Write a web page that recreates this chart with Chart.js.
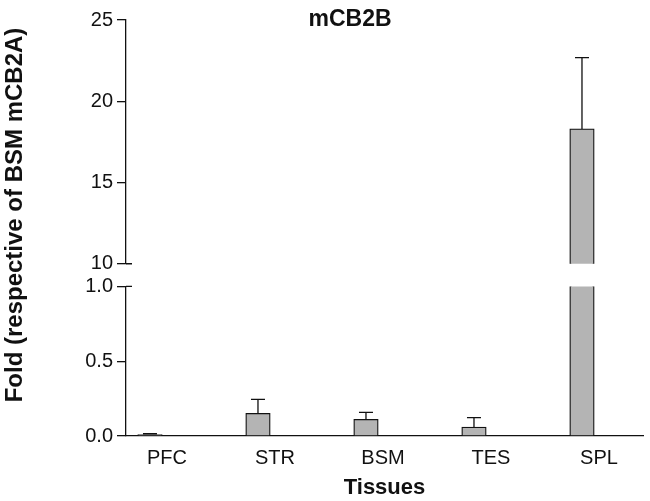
<!DOCTYPE html>
<html>
<head>
<meta charset="utf-8">
<script src="https://cdn.jsdelivr.net/npm/chart.js@4.4.1/dist/chart.umd.min.js"></script>
<style>
  html, body { margin: 0; padding: 0; background: #fff; }
  canvas { display: block; }
</style>
</head>
<body>
<canvas id="chart" width="650" height="501"></canvas>
<script>
const tissues = ["PFC", "STR", "BSM", "TES", "SPL"];
const fold = [0.01, 0.152, 0.112, 0.06, 18.3];
const sem = [0.005, 0.093, 0.046, 0.063, 4.39];
const topTicks = [10, 15, 20, 25];
const lowTicks = [0, 0.5, 1.0];
const titleText = "mCB2B";
const yTitleText = "Fold (respective of BSM mCB2A)";
const xTitleText = "Tissues";

const FONT = "'Liberation Sans', Arial, sans-serif";
const INK = "#111";
const AXIS_W = 126;

// one dataset per axis segment; the upper one only keeps values that reach it
const lowData = fold.map((v, i) => ({x: i, y: v}));
const topData = fold.map((v, i) => ({x: i, y: v >= topTicks[0] ? v : null}));

const extras = {
  id: "extras",
  afterDatasetsDraw(chart) {
    const ctx = chart.ctx;
    const xs = chart.scales.x;
    ctx.save();
    ctx.strokeStyle = INK;
    ctx.lineWidth = 1.3;
    // error bars (upper only)
    chart.data.datasets.forEach(ds => {
      const ys = chart.scales[ds.yAxisID];
      ds.data.forEach((p, i) => {
        if (p.y == null || p.y > ys.max) return;
        const px = xs.getPixelForValue(p.x);
        const y0 = ys.getPixelForValue(p.y);
        const y1 = ys.getPixelForValue(p.y + sem[i]);
        ctx.beginPath();
        ctx.moveTo(px, y0);
        ctx.lineTo(px, y1);
        ctx.moveTo(px - 7, y1);
        ctx.lineTo(px + 7, y1);
        ctx.stroke();
      });
    });
    // break marks on the y axis
    const yt = chart.scales.yTop, yb = chart.scales.yLow;
    ctx.beginPath();
    ctx.moveTo(xs.left, yt.bottom); ctx.lineTo(xs.left + 6, yt.bottom);
    ctx.moveTo(xs.left, yb.top); ctx.lineTo(xs.left + 6, yb.top);
    ctx.stroke();
    // titles
    ctx.fillStyle = INK;
    ctx.font = "bold 23px " + FONT;
    ctx.textAlign = "center";
    ctx.textBaseline = "alphabetic";
    ctx.fillText(titleText, 350, 26);
    ctx.translate(15, 215);
    ctx.rotate(-Math.PI / 2);
    ctx.font = "bold 24px " + FONT;
    ctx.textBaseline = "middle";
    ctx.fillText(yTitleText, 0, 0);
    ctx.restore();
  }
};

const yCommon = {
  position: "left",
  stack: "fold",
  afterFit: s => { s.width = AXIS_W; },
  grid: {drawOnChartArea: false, color: INK, lineWidth: 1.3, tickLength: 9},
  border: {color: INK, width: 1.3},
  ticks: {color: INK, padding: 4, font: {family: FONT, size: 20}}
};

new Chart(document.getElementById("chart"), {
  type: "bar",
  data: {
    datasets: [{
      data: lowData,
      yAxisID: "yLow",
      grouped: false,
      backgroundColor: "#b4b4b4",
      borderColor: INK,
      borderWidth: 1.3,
      barThickness: 24.5
    }, {
      data: topData,
      yAxisID: "yTop",
      grouped: false,
      backgroundColor: "#b4b4b4",
      borderColor: INK,
      borderWidth: 1.3,
      barThickness: 24.5
    }]
  },
  options: {
    responsive: false,
    animation: false,
    maintainAspectRatio: false,
    layout: {padding: {top: 20, right: 7, bottom: 0, left: 0}},
    plugins: {legend: {display: false}, tooltip: {enabled: false}},
    scales: {
      x: {
        type: "linear",
        offset: false,
        min: -0.222,
        max: 4.565,
        afterFit: s => { s.height = 65; },
        afterBuildTicks: s => { s.ticks = tissues.map((t, i) => ({value: i})); },
        ticks: {
          color: INK,
          padding: 10,
          labelOffset: 17,
          maxRotation: 0,
          autoSkip: false,
          font: {family: FONT, size: 20},
          callback: v => tissues[v]
        },
        grid: {display: false, drawTicks: false},
        border: {color: INK, width: 1.3},
        title: {display: true, text: xTitleText, color: INK, padding: {top: 2, bottom: 0},
                font: {family: FONT, size: 22, weight: "bold"}}
      },
      yLow: Object.assign({}, yCommon, {
        min: 0, max: 1, stackWeight: 149.7,
        afterBuildTicks: s => { s.ticks = lowTicks.map(v => ({value: v})); },
        ticks: Object.assign({}, yCommon.ticks, {callback: v => v.toFixed(1)})
      }),
      yGap: {
        position: "left", stack: "fold", stackWeight: 22.7, display: false, min: 0, max: 1
      },
      yTop: Object.assign({}, yCommon, {
        min: 10, max: 25, stackWeight: 244,
        afterBuildTicks: s => { s.ticks = topTicks.map(v => ({value: v})); }
      })
    }
  },
  plugins: [extras]
});
</script>
</body>
</html>
